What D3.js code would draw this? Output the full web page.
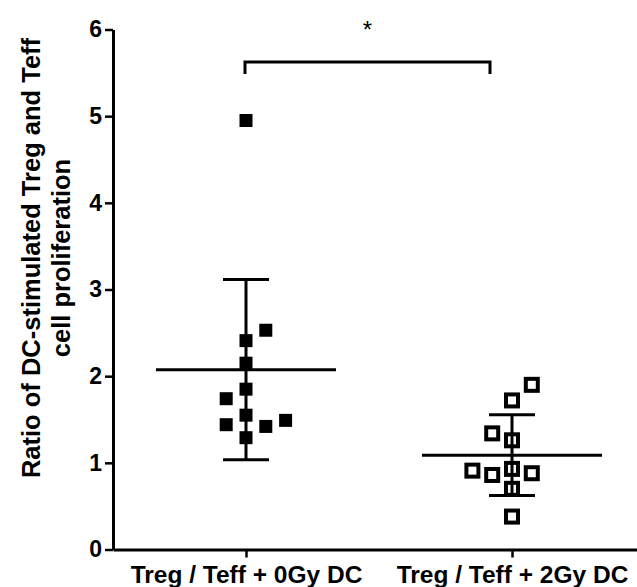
<!DOCTYPE html>
<html>
<head>
<meta charset="utf-8">
<script src="https://cdn.jsdelivr.net/npm/d3@7"></script>
<style>
  html, body { margin: 0; padding: 0; background: #fff; }
  svg { display: block; }
  text { font-family: "Liberation Sans", Arial, Helvetica, sans-serif; }
</style>
</head>
<body>
<svg id="chart" width="637" height="587"></svg>
<script>
// ---- data ----
const categories = ["Treg / Teff + 0Gy DC", "Treg / Teff + 2Gy DC"];
const values0Gy = [4.95, 2.53, 2.41, 2.15, 1.85, 1.74, 1.55, 1.44, 1.42, 1.49, 1.29];
const jitter0Gy = [0, 1, 0, 0, 0, -1, 0, -1, 1, 2, 0];
const values2Gy = [1.90, 1.72, 1.34, 1.26, 0.91, 0.86, 0.93, 0.88, 0.70, 0.38];
const jitter2Gy = [1, 0, -1, 0, -2, -1, 0, 1, 0, 0];
const yTicks = [0, 1, 2, 3, 4, 5, 6];
const yTitleLines = ["Ratio of DC-stimulated Treg and Teff", "cell proliferation"];
const significance = "*";

// ---- layout ----
const svg = d3.select("#chart");
const axisX = 113, axisY = 549.5, topY = 29.5;
const slot = 19.8;

const y = d3.scaleLinear().domain([0, 6]).range([axisY, topY]);
const x = d3.scalePoint().domain(categories).range([axisX, 645]).padding(0.5);

const groups = [
  { cat: categories[0], values: values0Gy, jitter: jitter0Gy, filled: true },
  { cat: categories[1], values: values2Gy, jitter: jitter2Gy, filled: false }
];

// points
groups.forEach(g => {
  const cx = x(g.cat);
  const pts = g.values.map((v, i) => ({ v, j: g.jitter[i] }));
  if (g.filled) {
    const s = 13;
    svg.append("g").selectAll("rect").data(pts).join("rect")
      .attr("x", d => cx + d.j * slot - s / 2)
      .attr("y", d => y(d.v) - s / 2)
      .attr("width", s).attr("height", s)
      .attr("fill", "#000");
  } else {
    const s = 12;
    svg.append("g").selectAll("rect").data(pts).join("rect")
      .attr("x", d => cx + d.j * slot - s / 2)
      .attr("y", d => y(d.v) - s / 2)
      .attr("width", s).attr("height", s)
      .attr("fill", "#fff").attr("stroke", "#000").attr("stroke-width", 4);
  }
});

// mean and SD bars
groups.forEach(g => {
  const cx = x(g.cat);
  const m = d3.mean(g.values);
  const sd = d3.deviation(g.values);
  const gg = svg.append("g").attr("stroke", "#000").attr("stroke-width", 3).attr("fill", "none");
  gg.append("line").attr("x1", cx - 90).attr("x2", cx + 90).attr("y1", y(m)).attr("y2", y(m));
  gg.append("line").attr("x1", cx).attr("x2", cx).attr("y1", y(m + sd)).attr("y2", y(m - sd));
  [m + sd, m - sd].forEach(v => {
    gg.append("line").attr("x1", cx - 23).attr("x2", cx + 23).attr("y1", y(v)).attr("y2", y(v));
  });
});

// axes
const yAxis = svg.append("g").attr("transform", `translate(${axisX},0)`)
  .call(d3.axisLeft(y).tickValues(yTicks).tickFormat(d3.format("d")).tickSize(8).tickSizeOuter(0).tickPadding(3));
yAxis.select(".domain").attr("stroke-width", 3).attr("stroke", "#000");
yAxis.selectAll(".tick line").attr("stroke-width", 2.5).attr("stroke", "#000");
yAxis.selectAll(".tick text").attr("font-size", 23).attr("font-weight", "bold").attr("fill", "#000")
  .style("font-family", '"Liberation Sans", Arial, sans-serif');

const xAxis = svg.append("g").attr("transform", `translate(0,${axisY})`)
  .call(d3.axisBottom(x).tickSize(8).tickSizeOuter(0).tickPadding(8));
xAxis.select(".domain").attr("stroke-width", 3).attr("stroke", "#000");
xAxis.selectAll(".tick line").attr("stroke-width", 2.5).attr("stroke", "#000");
xAxis.selectAll(".tick text").attr("font-size", 24.5).attr("font-weight", "bold").attr("fill", "#000")
  .style("font-family", '"Liberation Sans", Arial, sans-serif');

// y title
const yt = svg.append("text")
  .attr("transform", `translate(0,258) rotate(-90)`)
  .attr("text-anchor", "middle")
  .attr("font-size", 25.5).attr("font-weight", "bold").attr("fill", "#000");
yt.selectAll("tspan").data(yTitleLines).join("tspan")
  .attr("x", 0).attr("y", (d, i) => 40 + i * 29.5)
  .text(d => d);

// significance bracket
const x1 = x(categories[0]) - 1, x2 = 490;
const by = 62;
svg.append("path")
  .attr("d", `M${x1},${by + 12}V${by}H${x2}V${by + 12}`)
  .attr("fill", "none").attr("stroke", "#000").attr("stroke-width", 3);
svg.append("text").attr("x", (x1 + x2) / 2).attr("y", 38)
  .attr("text-anchor", "middle").attr("font-size", 24).attr("fill", "#000")
  .text(significance);
</script>
</body>
</html>
